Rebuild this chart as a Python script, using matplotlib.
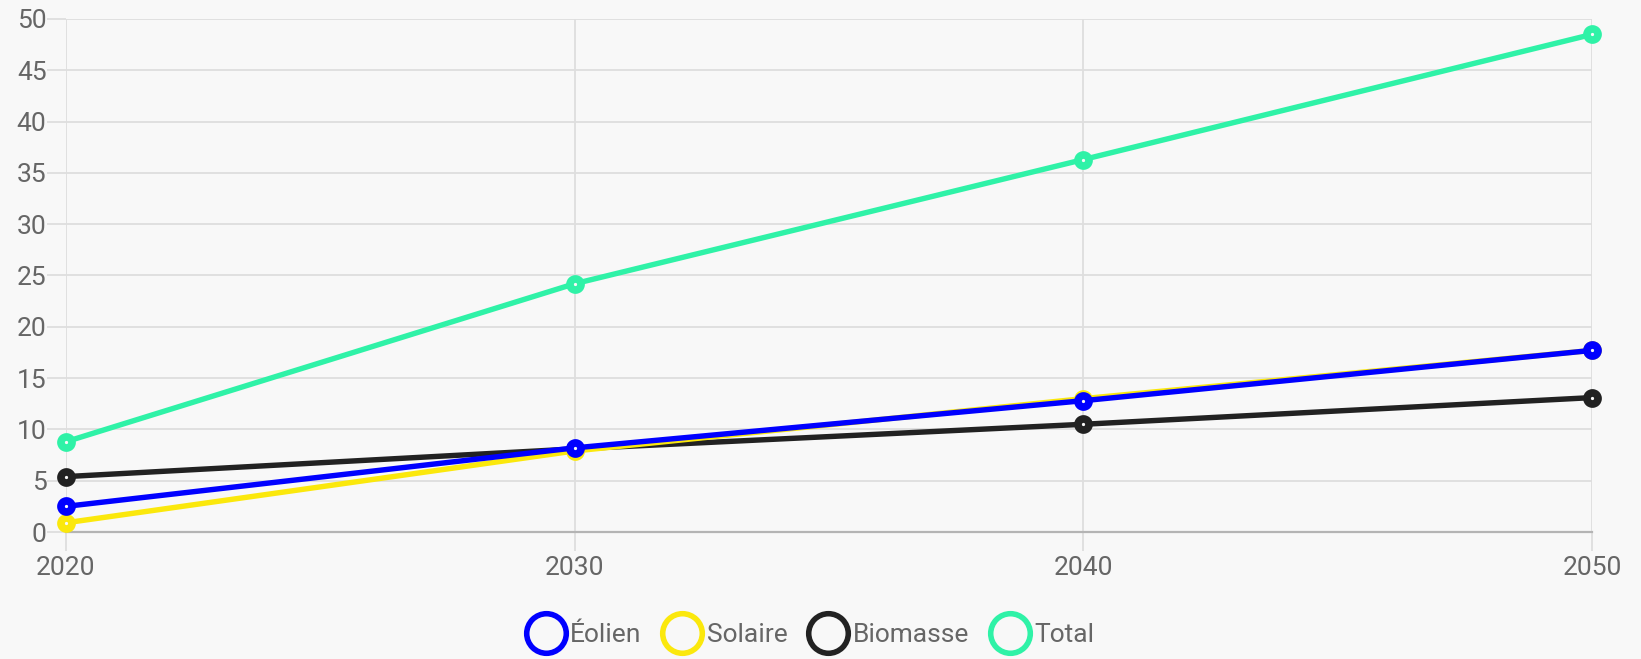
import matplotlib

matplotlib.use("Agg")
import matplotlib.pyplot as plt
from matplotlib.lines import Line2D

# Production par filière (valeurs lues en TWh)
years = [2020, 2030, 2040, 2050]
eolien = [2.5, 8.2, 12.8, 17.7]
solaire = [0.9, 7.9, 13.0, 17.7]
biomasse = [5.4, 8.1, 10.5, 13.1]
total = [8.8, 24.2, 36.3, 48.5]

series = [
    ("Éolien", eolien, "#0000ff", 5),
    ("Solaire", solaire, "#fbe80c", 4),
    ("Biomasse", biomasse, "#222222", 3),
    ("Total", total, "#2ff2a7", 2),
]

BG = "#f8f8f8"
GRID = "#dedede"
TEXT = "#666666"

plt.rcParams["font.family"] = ["Roboto", "DejaVu Sans"]

fig = plt.figure(figsize=(16.41, 6.59), dpi=100, facecolor=BG)
ax = fig.add_axes([0.0402, 0.1927, 0.930, 0.7785])
ax.set_facecolor(BG)

for label, values, color, z in series:
    ax.plot(
        years, values, color=color, linewidth=3.9, marker="o",
        markersize=8, markerfacecolor=BG, markeredgecolor=color,
        markeredgewidth=5.5, zorder=z, solid_capstyle="round",
        clip_on=False,
    )

ax.set_xlim(2020, 2050)
ax.set_ylim(0, 50)
ax.set_xticks(years)
ax.set_yticks(range(0, 51, 5))
ax.grid(True, color=GRID, linewidth=1.3, zorder=0)
ax.set_axisbelow(True)

for side in ("top", "right", "left"):
    ax.spines[side].set_visible(False)
ax.spines["bottom"].set_color("#b4b4b4")
ax.spines["bottom"].set_linewidth(1.6)

ax.tick_params(axis="both", colors=GRID, labelcolor=TEXT, labelsize=19,
               length=14, width=1.3)
ax.tick_params(axis="y", pad=0)
ax.tick_params(axis="x", pad=3)

handles = [
    Line2D([], [], linestyle="none", marker="o", markersize=28.5,
           markerfacecolor=BG, markeredgecolor=color, markeredgewidth=4.0)
    for _, _, color, _ in series
]
fig.legend(
    handles, [s[0] for s in series], loc="center", ncol=4,
    bbox_to_anchor=(0.4933, 0.036), frameon=False, fontsize=19,
    labelcolor=TEXT, handletextpad=0.12, columnspacing=0.75,
    handlelength=1.6, borderpad=0,
)

fig.savefig("out.png", dpi=100, facecolor=BG)
